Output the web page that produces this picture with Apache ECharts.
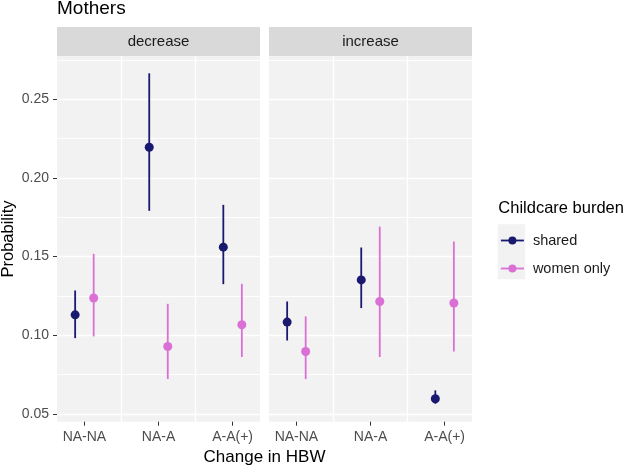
<!DOCTYPE html>
<html><head><meta charset="utf-8">
<script src="https://cdn.jsdelivr.net/npm/echarts@6/dist/echarts.min.js"></script>
<style>html,body{margin:0;padding:0;background:#fff}#c{width:628px;height:468px}</style>
</head><body><div id="c"></div>
<script>
const categories = ['NA-NA', 'NA-A', 'A-A(+)'];
const facets = ['decrease', 'increase'];
const groups = ['shared', 'women only'];
const yTicks = [0.05, 0.10, 0.15, 0.20, 0.25];
const yMinorTicks = [0.075, 0.125, 0.175, 0.225, 0.275];

const sharedDecrease = [0.113, 0.2195, 0.156];
const sharedDecreaseLow = [0.0982, 0.1791, 0.1325];
const sharedDecreaseHigh = [0.1285, 0.2665, 0.1829];
const womenDecrease = [0.1237, 0.0929, 0.1067];
const womenDecreaseLow = [0.0993, 0.0722, 0.0862];
const womenDecreaseHigh = [0.1518, 0.1200, 0.1327];

const sharedIncrease = [0.1084, 0.1352, 0.0597];
const sharedIncreaseLow = [0.0967, 0.1173, 0.0565];
const sharedIncreaseHigh = [0.1215, 0.1558, 0.0650];
const womenIncrease = [0.0897, 0.1215, 0.1205];
const womenIncreaseLow = [0.0722, 0.0862, 0.0897];
const womenIncreaseHigh = [0.1120, 0.1691, 0.1596];

const est = [[sharedDecrease, womenDecrease], [sharedIncrease, womenIncrease]];
const lows = [[sharedDecreaseLow, womenDecreaseLow], [sharedIncreaseLow, womenIncreaseLow]];
const highs = [[sharedDecreaseHigh, womenDecreaseHigh], [sharedIncreaseHigh, womenIncreaseHigh]];

const colors = ['#191970', '#DA70D6'];
const dodge = [-0.125, 0.125];
const FONT = 'Liberation Sans, Arial, sans-serif';
const xMin = -0.37, xMax = 2.37, yMin = 0.0451, yMax = 0.2775;
const panelLeft = [57, 269], panelW = 203, panelTop = 56, panelBottom = 46.3;

const chart = echarts.init(document.getElementById('c'), null, {renderer: 'canvas'});

const grids = [], xAxes = [], yAxes = [], series = [], graphics = [];
facets.forEach((f, fi) => {
  grids.push({left: panelLeft[fi], width: panelW, top: panelTop, bottom: panelBottom,
    show: true, backgroundColor: '#F2F2F2', borderWidth: 0, containLabel: false, outerBoundsMode: 'none'});
  xAxes.push({type: 'value', gridIndex: fi, min: xMin, max: xMax, position: 'bottom',
    axisLine: {show: false, onZero: false},
    axisTick: {show: true, length: 4, lineStyle: {color: '#333333', width: 1}, customValues: [0, 1, 2]},
    axisLabel: {show: true, customValues: [0, 1, 2], formatter: v => categories[Math.round(v)],
      color: '#4D4D4D', fontSize: 14, fontFamily: FONT, margin: 8},
    splitLine: {show: false}});
  xAxes.push({type: 'value', gridIndex: fi, min: xMin, max: xMax, position: 'top',
    axisLine: {show: false, onZero: false}, axisLabel: {show: false},
    axisTick: {show: false, customValues: [0.5, 1.5]},
    splitLine: {show: true, lineStyle: {color: '#FFFFFF', width: 1.3}}});
  yAxes.push({type: 'value', gridIndex: fi, min: yMin, max: yMax, position: 'left',
    axisLine: {show: false, onZero: false},
    axisTick: {show: fi === 0, length: 4, lineStyle: {color: '#333333', width: 1}, customValues: yTicks},
    axisLabel: {show: fi === 0, customValues: yTicks, formatter: v => v.toFixed(2),
      color: '#4D4D4D', fontSize: 14, fontFamily: FONT, margin: 8},
    splitLine: {show: true, lineStyle: {color: '#FFFFFF', width: 1.3}}});
  yAxes.push({type: 'value', gridIndex: fi, min: yMin, max: yMax, position: 'right',
    axisLine: {show: false, onZero: false}, axisLabel: {show: false},
    axisTick: {show: false, customValues: yMinorTicks},
    splitLine: {show: true, lineStyle: {color: '#FFFFFF', width: 0.9}}});

  groups.forEach((g, gi) => {
    const ciData = categories.map((c, ci) => [ci + dodge[gi], lows[fi][gi][ci], highs[fi][gi][ci]]);
    series.push({type: 'custom', name: g + ' CI', xAxisIndex: fi * 2, yAxisIndex: fi * 2,
      silent: true, animation: false, encode: {x: 0, y: [1, 2]}, data: ciData,
      renderItem: (params, api) => {
        const p1 = api.coord([api.value(0), api.value(1)]);
        const p2 = api.coord([api.value(0), api.value(2)]);
        return {type: 'line', shape: {x1: p1[0], y1: p1[1], x2: p2[0], y2: p2[1]},
          style: {stroke: colors[gi], lineWidth: 1.8}};
      }});
  });
  groups.forEach((g, gi) => {
    const ptData = categories.map((c, ci) => [ci + dodge[gi], est[fi][gi][ci]]);
    series.push({type: 'line', name: g, xAxisIndex: fi * 2, yAxisIndex: fi * 2,
      data: ptData, symbol: 'circle', symbolSize: 9, showSymbol: true, showAllSymbol: true,
      lineStyle: {opacity: 0, width: 1.8, color: colors[gi]}, itemStyle: {color: colors[gi]},
      silent: true, animation: false, z: 3});
  });

  graphics.push({type: 'rect', shape: {x: panelLeft[fi], y: 27, width: panelW, height: 29},
    style: {fill: '#D9D9D9'}, silent: true});
  graphics.push({type: 'text', x: panelLeft[fi] + panelW / 2, y: 41.5,
    style: {text: f, fill: '#1A1A1A', font: '15px ' + FONT, align: 'center', verticalAlign: 'middle'}});
});

graphics.push({type: 'text', x: 57, y: 8.5,
  style: {text: 'Mothers', fill: '#000000', font: '19px ' + FONT, align: 'left', verticalAlign: 'middle'}});
graphics.push({type: 'text', x: 264.5, y: 457,
  style: {text: 'Change in HBW', fill: '#000000', font: '17px ' + FONT, align: 'center', verticalAlign: 'middle'}});
graphics.push({type: 'text', x: 8.7, y: 239, rotation: Math.PI / 2,
  style: {text: 'Probability', fill: '#000000', font: '16.5px ' + FONT, align: 'center', verticalAlign: 'middle'}});
graphics.push({type: 'text', x: 498.3, y: 208.3,
  style: {text: 'Childcare burden', fill: '#000000', font: '16.5px ' + FONT, align: 'left', verticalAlign: 'middle'}});
graphics.push({type: 'rect', shape: {x: 497.7, y: 224.3, width: 27.5, height: 55},
  style: {fill: '#F2F2F2'}, silent: true, z: -1});

chart.setOption({
  animation: false,
  backgroundColor: '#FFFFFF',
  grid: grids, xAxis: xAxes, yAxis: yAxes, series: series,
  graphic: {elements: graphics},
  legend: {orient: 'vertical', left: 500, top: 233, itemWidth: 23, itemHeight: 10, itemGap: 13,
    data: groups, selectedMode: false, z: 5, padding: 0,
    lineStyle: {width: 1.8, opacity: 1},
    textStyle: {color: '#1A1A1A', fontSize: 14.5, fontFamily: FONT, padding: [0, 0, 0, 4]}}
});
</script></body></html>
